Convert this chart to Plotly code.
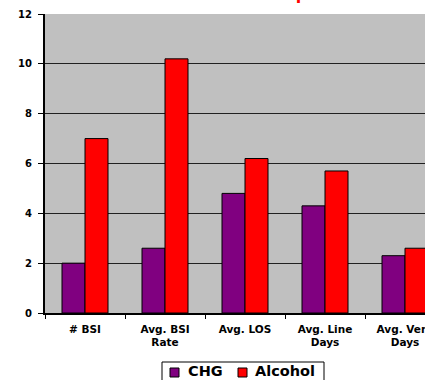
import plotly.graph_objects as go

categories = ["# BSI", "Avg. BSI<br>Rate", "Avg. LOS", "Avg. Line<br>Days", "Avg. Vent<br>Days"]
chg_values = [2.0, 2.6, 4.8, 4.3, 2.3]
alcohol_values = [7.0, 10.2, 6.2, 5.7, 2.6]
y_ticks = [0, 2, 4, 6, 8, 10, 12]
series_names = ["CHG", "Alcohol"]
series_colors = ["#800080", "#FF0000"]

FONT = "DejaVu Sans, Verdana, sans-serif"

W, H = 425, 380
ML, MT, MB = 45, 14, 67
PLOT_W = W - ML
PLOT_H = H - MT - MB


def px_x(px):
    """Pixel column -> paper x."""
    return (px - ML) / PLOT_W


def px_y(py):
    """Pixel row (from top) -> paper y."""
    return (H - MB - py) / PLOT_H


fig = go.Figure()
for name, vals, col in zip(series_names, [chg_values, alcohol_values], series_colors):
    fig.add_trace(go.Bar(
        name=name, x=categories, y=vals,
        marker=dict(color=col, line=dict(color="black", width=1)),
    ))

# Boxed legend under the axis, drawn with shapes and annotations
shapes = [dict(
    type="rect", xref="paper", yref="paper", layer="above",
    x0=px_x(162), x1=px_x(324), y0=px_y(362), y1=px_y(390),
    line=dict(color="black", width=1), fillcolor="white",
)]
annotations = []
legend_slots = [(170, 186), (238, 253)]
for (sx, tx), name, col in zip(legend_slots, series_names, series_colors):
    shapes.append(dict(
        type="rect", xref="paper", yref="paper", layer="above",
        x0=px_x(sx), x1=px_x(sx + 9), y0=px_y(368), y1=px_y(377),
        line=dict(color="black", width=1), fillcolor=col,
    ))
    annotations.append(dict(
        text=name, xref="paper", yref="paper",
        x=px_x(tx), y=px_y(371), xanchor="left", yanchor="middle",
        showarrow=False,
        font=dict(size=14.5, color="black", family=FONT, weight="bold"),
    ))

# Chart title sitting at the very top edge of the canvas
annotations.append(dict(
    text="CHG vs. Alcohol Comparison",
    xref="paper", yref="paper",
    x=px_x(236), y=px_y(6.5), xanchor="center", yanchor="bottom",
    showarrow=False,
    font=dict(size=16, color="#FF0000", family=FONT, weight="bold"),
))

fig.update_layout(
    width=W, height=H,
    margin=dict(l=ML, r=0, t=MT, b=MB, autoexpand=False),
    paper_bgcolor="white",
    plot_bgcolor="#C0C0C0",
    barmode="group",
    bargap=0.425,
    bargroupgap=0,
    font=dict(family=FONT, color="black"),
    showlegend=False,
    shapes=shapes,
    annotations=annotations,
)

fig.update_xaxes(
    range=[-0.5, 4.25],
    showline=True, linecolor="black", linewidth=2,
    ticks="outside", tickson="boundaries", ticklen=4, tickcolor="black", tickwidth=1,
    tickfont=dict(size=10.5, family=FONT, weight="bold"),
    ticklabelstandoff=5,
    showgrid=False,
    automargin=False,
)
fig.update_yaxes(
    range=[0, 12],
    tickvals=y_ticks,
    showline=True, linecolor="black", linewidth=2,
    ticks="outside", ticklen=5, tickcolor="black", tickwidth=1,
    tickfont=dict(size=10, family=FONT, weight="bold"),
    ticklabelstandoff=4,
    showgrid=True, gridcolor="#202020", gridwidth=1,
    zeroline=False,
    automargin=False,
)

fig.write_html("out.html")
